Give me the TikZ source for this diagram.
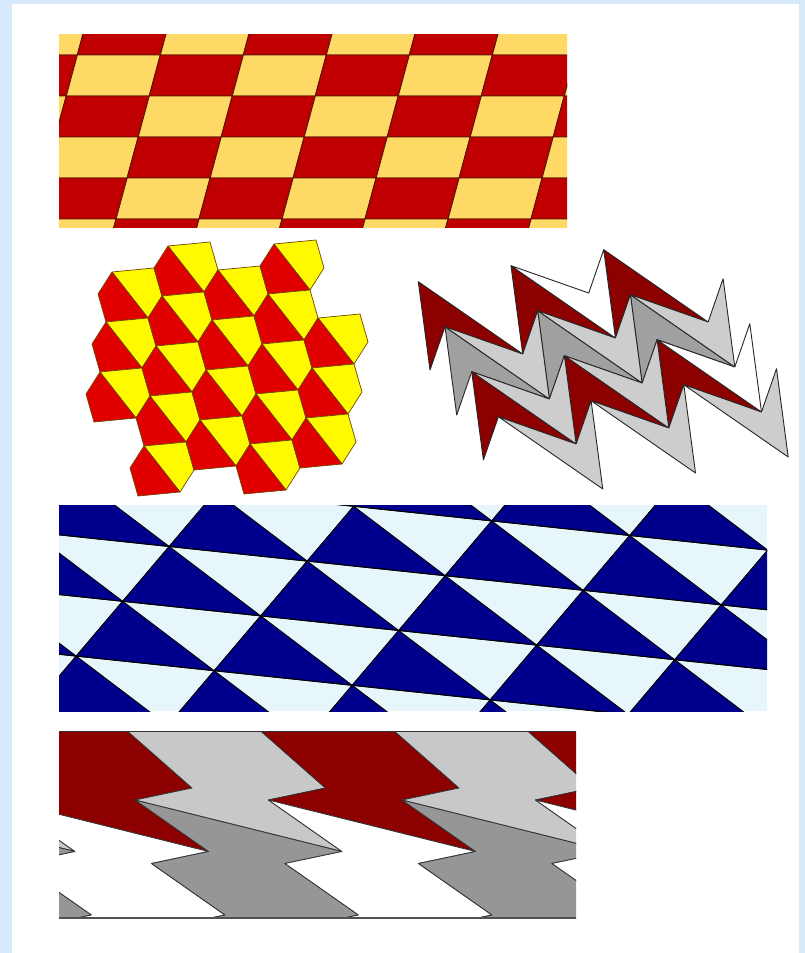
\documentclass[tikz,border=0pt]{standalone}
\usetikzlibrary{calc}
\definecolor{frameblue}{RGB}{214,234,252}
\definecolor{cbred}{RGB}{192,0,0}
\definecolor{cbyel}{RGB}{255,217,102}
\definecolor{cbline}{RGB}{90,20,0}
\definecolor{pred}{RGB}{225,0,0}
\definecolor{pyel}{RGB}{255,250,0}
\definecolor{pline}{RGB}{110,70,0}
\definecolor{zred}{RGB}{140,0,0}
\definecolor{zmid}{RGB}{160,160,160}
\definecolor{zlight}{RGB}{205,205,205}
\definecolor{tblue}{RGB}{0,0,140}
\definecolor{tlight}{RGB}{230,246,250}
\definecolor{lmid}{RGB}{150,150,150}
\definecolor{llight}{RGB}{200,200,200}
\definecolor{lline}{RGB}{50,50,50}
\tikzset{
  cbtile/.style={draw=cbline,line width=0.9pt},
  pentile/.style={draw=pline,line width=0.7pt,line join=round},
  darttile/.style={draw=black!85,line width=0.9pt,line join=round},
  tritile/.style={draw=black,line width=0.9pt},
  bolttile/.style={draw=lline,line width=0.8pt,line join=round}
}
\begin{document}
\begin{tikzpicture}[x=1pt,y=-1pt]
\useasboundingbox (0,0) rectangle (805,953);
\fill[frameblue] (0,0) rectangle (805,953);
\fill[white] (12,4) rectangle (799,953);

% ---------- panel 1: slanted checkerboard ----------
\begin{scope}
\clip (59,34) rectangle (567,227);
\foreach \r in {0,...,5}{
 \foreach \c in {-2,...,7}{
  \pgfmathsetmacro\yt{14+41*\r}
  \pgfmathsetmacro\yb{55+41*\r}
  \pgfmathsetmacro\xa{83+83*\c-0.27*(\yt-34)}
  \pgfmathsetmacro\xd{83+83*\c-0.27*(\yb-34)}
  \pgfmathtruncatemacro\parity{mod(\r+\c+20,2)}
  \ifnum\parity=0 \def\fc{cbred}\else\def\fc{cbyel}\fi
  \filldraw[cbtile,fill=\fc] (\xa,\yt) -- (\xa+83,\yt) -- (\xd+83,\yb) -- (\xd,\yb) -- cycle;
 }}
\end{scope}

% ---------- panel 2: split hexagons ----------
\foreach \i/\j in {0/0,1/0,0/1,1/1,2/1,3/1,0/2,1/2,2/2,3/2,1/3,2/3,3/3,4/3,1/4,2/4,3/4,4/4,3/5,4/5}{
 \pgfmathsetmacro\cx{130+56*\i-6*\j}
 \pgfmathsetmacro\cy{295-26*\i+50*\j}
 \begin{scope}[shift={(\cx,\cy)}]
  \filldraw[pentile,fill=pyel] (-18,-23) -- (24,-27) -- (32,1) -- (18,23) -- cycle;
  \filldraw[pentile,fill=pred] (-18,-23) -- (18,23) -- (-24,27) -- (-32,-1) -- cycle;
 \end{scope}
}

% ---------- panel 3: zigzag darts ----------
% right-tail darts
\foreach \m/\n/\col in {0/0/zred,1/0/zred,2/0/zred,0/1/zmid,1/1/zmid,2/1/zmid,0/2/zred,1/2/zred,2/2/zred}{
 \pgfmathsetmacro\ux{418.3+92.7*\m+26.7*\n}
 \pgfmathsetmacro\uy{281.7-16*\m+45*\n}
 \begin{scope}[shift={(\ux,\uy)}]
  \filldraw[darttile,fill=\col] (0,0) -- (11.7,88.3) -- (26.7,45) -- (104.4,72.3) -- cycle;
 \end{scope}
}
% left-tail darts
\foreach \m/\n/\col in {2/0/white,1/1/zlight,2/1/zlight,3/1/zlight,1/2/zlight,2/2/zlight,3/2/white,1/3/zlight,2/3/zlight,3/3/zlight}{
 \pgfmathsetmacro\ux{418.3+92.7*\m+26.7*\n}
 \pgfmathsetmacro\uy{281.7-16*\m+45*\n}
 \begin{scope}[shift={(\ux,\uy)}]
  \filldraw[darttile,fill=\col] (0,0) -- (11.7,88.3) -- (-92.7,16) -- (-15,43.3) -- cycle;
 \end{scope}
}

% ---------- panel 4: triangle lattice ----------
\begin{scope}
\clip (59,505) rectangle (767,711);
\fill[tlight] (59,505) rectangle (767,711);
\foreach \i in {-2,...,5}{
 \foreach \j in {-3,...,3}{
  \pgfmathsetmacro\vx{169.2+138*\i-46.5*\j}
  \pgfmathsetmacro\vy{546.5+14.6*\i+54.8*\j}
  \filldraw[tritile,fill=tblue] (\vx,\vy) -- ++(-46.5,54.8) -- ++(138,14.6) -- cycle;
  \draw[tritile] (\vx,\vy) -- ++(138,14.6) -- ++(-46.5,54.8);
 }}
\end{scope}

% ---------- panel 5: lightning bands ----------
\begin{scope}
\clip (59,731) rectangle (576,918);
\foreach \c in {-1,...,4}{
 \pgfmathsetmacro\dx{133.5*(\c-1)}
 \pgfmathtruncatemacro\parity{mod(\c+20,2)}
 \ifnum\parity=0 \def\uc{zred}\def\lc{white}\else\def\uc{llight}\def\lc{lmid}\fi
 \begin{scope}[shift={(\dx,0)}]
  \filldraw[bolttile,fill=\uc] (182,717) -- (125,729) -- (192,788) -- (135,800)
     -- (342,851.5) -- (268.5,800) -- (325.5,788) -- (258.5,729) -- (315.5,717) -- cycle;
  \filldraw[bolttile,fill=\lc] (135,800) -- (208.5,851.5) -- (151.5,863.5) -- (225,915) -- (168,927)
     -- (301.5,927) -- (358.5,915) -- (285,863.5) -- (342,851.5) -- cycle;
 \end{scope}
}
\end{scope}
\draw[lline,line width=0.8pt] (59,731) -- (576,731);
\draw[lline!85,line width=2pt] (59,918) -- (576,918);
\end{tikzpicture}
\end{document}
